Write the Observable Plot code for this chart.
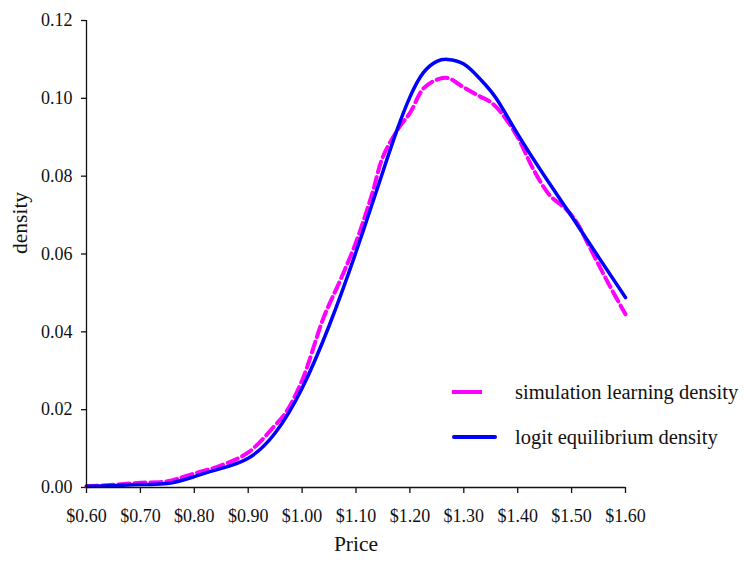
<!DOCTYPE html>
<html>
<head>
<meta charset="utf-8">
<script src="https://cdn.jsdelivr.net/npm/d3@7"></script>
<script src="https://cdn.jsdelivr.net/npm/@observablehq/plot@0.6"></script>
<style>
  body { margin: 0; background: #fff; }
  #wrap { position: relative; width: 744px; height: 565px; font-family: "Liberation Serif", "DejaVu Serif", serif; }
  .leg { position: absolute; left: 451px; height: 24px; font-size: 20.5px; color: #111; display: flex; align-items: center; white-space: nowrap; }
  .leg svg { margin-right: 18px; }
</style>
</head>
<body>
<div id="wrap"></div>
<script>
// Simulation learning density (magenta dashed)
const simPrice   = [0.60, 0.65, 0.70, 0.75, 0.785, 0.85, 0.90, 0.95, 0.97, 1.00, 1.04, 1.07, 1.10, 1.13, 1.15, 1.18, 1.20, 1.225, 1.25, 1.27, 1.30, 1.33, 1.35, 1.37, 1.40, 1.43, 1.46, 1.49, 1.51, 1.53, 1.57, 1.60];
const simDensity = [0.0003, 0.0007, 0.0012, 0.0016, 0.0030, 0.0057, 0.0090, 0.0160, 0.0193, 0.0275, 0.0437, 0.0530, 0.0630, 0.0755, 0.0850, 0.0925, 0.0962, 0.1025, 0.1048, 0.1052, 0.1028, 0.1005, 0.0990, 0.0962, 0.0900, 0.0815, 0.0750, 0.0715, 0.0680, 0.0627, 0.0520, 0.0445];
// Logit equilibrium density (blue solid)
const logitPrice   = [0.60, 0.65, 0.70, 0.75, 0.80, 0.85, 0.90, 0.95, 1.00, 1.05, 1.10, 1.15, 1.177, 1.20, 1.225, 1.25, 1.27, 1.30, 1.33, 1.36, 1.40, 1.45, 1.50, 1.55, 1.60];
const logitDensity = [0.0003, 0.0005, 0.0008, 0.0010, 0.0028, 0.0049, 0.0075, 0.0140, 0.0255, 0.0415, 0.0605, 0.0812, 0.0922, 0.1003, 0.1066, 0.1095, 0.1100, 0.1088, 0.1050, 0.1000, 0.0908, 0.0800, 0.0697, 0.0592, 0.0488];

const xTicks = [0.6, 0.7, 0.8, 0.9, 1.0, 1.1, 1.2, 1.3, 1.4, 1.5, 1.6];
const yTicks = [0, 0.02, 0.04, 0.06, 0.08, 0.10, 0.12];
const seriesNames = ["simulation learning density", "logit equilibrium density"];

const sim = simPrice.map((p, i) => ({price: p, density: simDensity[i]}));
const logit = logitPrice.map((p, i) => ({price: p, density: logitDensity[i]}));

const chart = Plot.plot({
  width: 744,
  height: 565,
  marginLeft: 86,
  marginRight: 119,
  marginTop: 20,
  marginBottom: 78,
  style: {fontFamily: "'Liberation Serif', 'DejaVu Serif', serif", background: "#fff", color: "#111"},
  x: {domain: [0.6, 1.6]},
  y: {domain: [0, 0.12]},
  marks: [
    Plot.axisX({ticks: xTicks, tickFormat: d => "$" + d.toFixed(2), tickSize: 6, tickPadding: 16, fontSize: 18, label: null, strokeWidth: 1.3}),
    Plot.axisY({ticks: yTicks, tickFormat: d => d.toFixed(2), tickSize: 5, tickPadding: 9, fontSize: 18, label: null, strokeWidth: 1.3}),
    Plot.line(sim, {x: "price", y: "density", stroke: "#ff00ff", strokeWidth: 4, strokeDasharray: "11,5", curve: "catmull-rom"}),
    Plot.line(logit, {x: "price", y: "density", stroke: "#0000ff", strokeWidth: 3.5, curve: "natural"}),
    Plot.ruleX([0.6], {stroke: "#111", strokeWidth: 1.3}),
    Plot.ruleY([0], {stroke: "#111", strokeWidth: 1.3}),
    Plot.text(["Price"], {frameAnchor: "bottom", dy: 63, fontSize: 21.5, fill: "#111"}),
    Plot.text(["density"], {frameAnchor: "left", dx: -66, rotate: -90, fontSize: 21.5, fill: "#111"})
  ]
});

const wrap = document.getElementById("wrap");
wrap.appendChild(chart);

const legItems = [
  {name: seriesNames[0], color: "#ff00ff", dash: true, top: 380},
  {name: seriesNames[1], color: "#0000ff", dash: false, top: 425}
];
for (const it of legItems) {
  const d = document.createElement("div");
  d.className = "leg";
  d.style.top = it.top + "px";
  d.innerHTML = `<svg width="46" height="20"><line x1="${it.dash ? 1 : 3}" y1="10" x2="${it.dash ? 31 : 44}" y2="10" stroke="${it.color}" stroke-width="4" stroke-linecap="${it.dash ? 'butt' : 'round'}"/></svg><span>${it.name}</span>`;
  wrap.appendChild(d);
}
</script>
</body>
</html>
